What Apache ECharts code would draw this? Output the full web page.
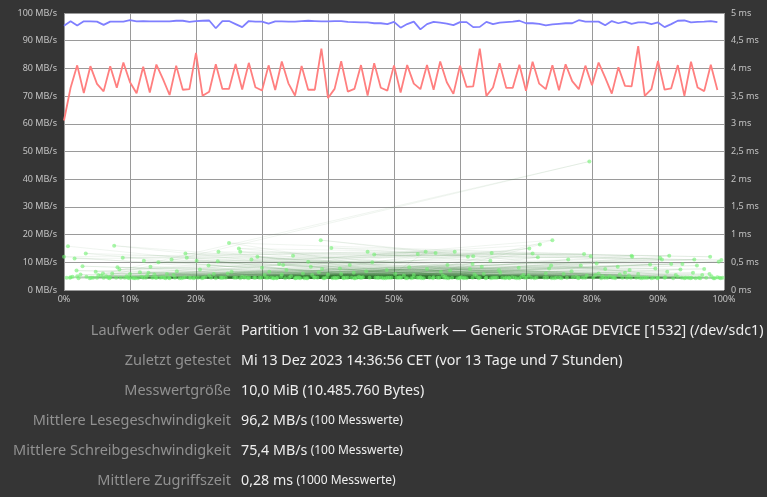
<!DOCTYPE html>
<html>
<head>
<meta charset="utf-8">
<script src="https://cdn.jsdelivr.net/npm/echarts@6/dist/echarts.min.js"></script>
<style>
html,body{margin:0;padding:0;background:#353535;}
#c{width:767px;height:497px;}
</style>
</head>
<body>
<div id="c"></div>
<script>
// Offsets (% of device) for read/write samples
const sampleOffsets = Array.from({length: 100}, (_, i) => i);
// Read rate samples (MB/s)
const readRates = [95.4,97.0,95.5,97.0,97.0,96.9,95.7,96.9,96.9,96.9,
97.4,97.0,97.1,97.0,97.0,97.0,97.0,97.2,97.2,96.8,
97.1,97.2,97.3,94.5,97.1,97.1,96.0,94.9,97.1,96.9,
96.9,96.2,97.0,97.0,96.9,96.9,97.1,97.2,97.1,97.0,
97.0,97.1,97.1,96.8,96.7,96.6,96.6,96.3,96.3,96.0,
96.8,94.7,96.0,96.9,94.1,96.0,96.8,96.5,96.2,95.6,
96.7,96.7,94.9,95.0,96.8,96.0,96.5,96.7,96.9,97.2,
96.3,96.3,96.1,95.5,95.9,96.1,96.3,96.3,97.4,96.9,
96.9,96.9,95.6,97.1,96.3,96.9,96.1,96.6,96.6,96.0,
96.6,94.9,96.0,97.2,97.3,96.6,96.8,96.9,97.1,96.7];
// Write rate samples (MB/s)
const writeRates = [61.2,73.0,81.1,71.1,80.8,74.4,71.7,80.8,73.0,82.1,
75.0,71.0,80.6,71.3,81.4,76.1,70.4,81.0,72.3,72.5,
85.6,70.1,71.6,81.5,72.6,72.6,81.6,72.4,82.0,73.2,
72.0,81.1,72.2,82.5,74.6,70.2,80.9,72.3,72.3,87.1,
69.3,72.6,82.6,71.6,72.6,81.2,70.2,81.9,73.0,72.0,
81.1,71.3,81.2,74.5,72.5,81.2,72.3,82.5,75.0,70.8,
81.0,73.3,73.5,87.1,70.1,73.1,81.9,73.0,73.0,81.3,
71.9,82.4,74.5,72.5,81.1,72.1,81.5,75.4,72.5,81.0,
73.9,82.1,76.7,70.9,80.4,73.7,73.5,88.0,70.1,72.5,
82.7,72.3,72.8,81.2,70.1,82.4,73.1,71.8,81.3,72.2];
// Access time samples: [offset %, time ms], in measurement order
const accessSamples = [
[0.6,0.79],[47.2,0.22],[12.8,0.31],[83.5,0.21],[33.2,0.45],[61.9,0.22],[5.6,0.26],[91.4,0.33],[26.7,0.21],[70.5,0.75],
[18.4,0.23],[55.0,0.38],[96.2,0.22],[39.5,0.21],[8.1,0.41],[77.6,0.24],[44.9,0.22],[23.3,0.52],[64.7,0.21],[1.9,0.35],
[87.2,0.22],[30.4,0.27],[52.6,0.21],[14.9,0.23],[73.8,0.44],[98.6,0.21],[37.0,0.51],[60.2,0.23],[9.7,0.22],[81.0,0.30],
[42.3,0.22],[20.6,0.37],[67.5,0.21],[3.4,0.24],[93.7,0.47],[28.8,0.22],[57.4,0.26],[11.2,0.21],[85.7,0.36],[49.6,0.22],
[16.3,0.55],[75.1,0.22],[38.0,0.23],[97.8,0.29],[6.9,0.21],[63.3,0.42],[24.5,0.22],[89.0,0.21],[45.8,0.34],[71.6,0.22],
[7.6,0.80],[54.2,0.21],[32.9,0.24],[5.2,0.27],[79.6,2.32],[6.4,0.25],[92.7,0.27],[40.7,0.21],[66.1,0.31],[21.4,0.23],
[58.8,0.22],[25.0,0.85],[86.0,0.62],[35.6,0.22],[2.2,0.21],[74.0,0.90],[50.9,0.23],[13.7,0.28],[95.5,0.55],[27.9,0.21],
[68.3,0.22],[41.8,0.39],[99.3,0.22],[17.5,0.21],[56.3,0.67],[31.4,0.22],[82.7,0.25],[10.3,0.22],[48.4,0.21],[65.9,0.36],
[19.8,0.22],[90.3,0.58],[36.7,0.21],[4.8,0.33],[72.1,0.82],[53.5,0.22],[29.3,0.60],[80.2,0.22],[15.4,0.21],[61.2,0.60],
[38.9,0.90],[94.6,0.22],[22.7,0.29],[76.4,0.55],[43.6,0.22],[0.0,0.60],[59.2,0.69],[34.7,0.62],[88.4,0.22],[12.1,0.53],
[51.8,0.21],[69.6,0.27],[26.5,0.75],[97.9,0.60],[46.0,0.69],[8.9,0.58],[78.8,0.65],[40.5,0.76],[62.0,0.61],[18.4,0.66],
[84.6,0.22],[30.9,0.22],[55.9,0.21],[1.0,0.23],[93.0,0.24],[37.9,0.22],[71.0,0.66],[14.3,0.50],[64.6,0.53],[47.0,0.64],
[99.6,0.54],[23.4,0.69],[57.6,0.22],[82.0,0.38],[3.3,0.66],[44.1,0.21],[91.7,0.62],[26.7,0.69],[67.4,0.22],[11.7,0.24],
[53.6,0.65],[79.8,0.61],[32.6,0.47],[96.4,0.21],[18.6,0.58],[73.2,0.22],[42.0,0.29],[86.1,0.60],[1.6,0.57],[60.7,0.22],
[20.1,0.53],[92.0,0.47],[35.0,0.21],[71.8,0.59],[49.0,0.22],[54.8,0.69],[9.2,0.22],[77.9,0.21],[28.4,0.55],[64.8,0.67],
[99.2,0.51],[45.3,0.23],[6.0,0.22],[85.0,0.31],[39.1,0.38],[72.8,0.22],[16.8,0.22],[58.1,0.45],[31.8,0.21],[90.6,0.55],
[4.1,0.22],[66.8,0.21],[48.9,0.36],[23.0,0.21],[81.9,0.22],[13.1,0.42],[63.0,0.22],[36.2,0.30],[95.1,0.22],[52.3,0.41],
[27.3,0.22],[76.9,0.34],[10.8,0.21],[43.0,0.22],[88.8,0.46],[19.2,0.22],[61.5,0.38],[34.1,0.22],[98.1,0.25],[56.9,0.22],
[2.8,0.43],[70.1,0.22],[41.2,0.21],[83.9,0.42],[25.8,0.22],[50.2,0.29],[15.9,0.22],[93.4,0.37],[59.9,0.21],[30.0,0.40],
[74.6,0.22],[8.4,0.37],[46.7,0.50],[87.8,0.22],[21.9,0.44],[62.8,0.21],[37.4,0.42],[97.0,0.38],[54.0,0.23],[12.4,0.22],
[80.7,0.48],[44.4,0.22],[68.9,0.40],[5.0,0.22],[33.7,0.36],[91.0,0.22],[57.1,0.33],[24.1,0.22],[78.3,0.44],[47.7,0.22],
[17.1,0.34],[85.3,0.22],[39.8,0.23],[65.3,0.22],[7.3,0.30],[95.9,0.44],[29.6,0.22],[52.0,0.21],[75.7,0.29],[14.0,0.22],
[61.9,0.47],[35.3,0.22],[89.6,0.39],[0.9,0.22],[69.0,0.21],[43.3,0.45],[22.3,0.22],[83.1,0.22],[58.5,0.35],[10.0,0.29],
[94.2,0.22],[31.1,0.33],[50.7,0.22],[73.5,0.39],[19.6,0.21],[99.8,0.22],
[3.9,0.21],[48.1,0.22],[77.1,0.23],[15.2,0.22],[60.5,0.21],[34.4,0.25],[92.3,0.21],[8.6,0.22],[69.3,0.24],[41.5,0.22],
[20.9,0.21],[85.6,0.26],[56.6,0.22],[27.6,0.23],[98.4,0.21],[11.5,0.32],[64.0,0.22],[36.9,0.21],[80.5,0.27],[45.1,0.22],
[2.5,0.28],[71.3,0.21],[51.1,0.22],[24.8,0.30],[89.3,0.22],[17.8,0.21],[62.5,0.25],[38.4,0.22],[95.3,0.31],[6.7,0.22],
[75.4,0.21],[29.0,0.22],[53.0,0.27],[13.4,0.22],[87.5,0.21],[44.7,0.24],[66.4,0.22],[32.2,0.21],[97.3,0.22],[22.0,0.26],
[58.3,0.21],[9.5,0.25],[82.3,0.22],[40.0,0.28],[70.8,0.22],[16.0,0.21],[49.3,0.22],[91.1,0.23],[26.1,0.22],[63.6,0.29],
[0.4,0.22],[78.6,0.22],[35.8,0.21],[55.4,0.22],[12.6,0.26],[94.9,0.21],[42.7,0.22],[67.9,0.23],[19.0,0.22],[84.2,0.28],
[30.6,0.22],[59.6,0.21],[4.4,0.22],[73.0,0.30],[47.5,0.22],[99.0,0.23],[23.7,0.22],[61.0,0.21],[37.6,0.27],[86.7,0.22],
[10.6,0.21],[52.9,0.22],[79.2,0.26],[28.1,0.22],[68.6,0.21],[14.6,0.22],[43.9,0.31],[93.6,0.22],[33.5,0.21],[57.8,0.24],
[7.9,0.22],[81.4,0.21],[50.4,0.22],[25.4,0.33],[65.6,0.22],[39.3,0.21],[96.7,0.27],[18.1,0.22],[74.3,0.21],[46.3,0.22],
[2.0,0.25],[88.1,0.22],[31.7,0.21],[62.2,0.28],[13.9,0.22],[54.5,0.21],[83.3,0.23],[21.1,0.22],[70.4,0.26],[41.0,0.22],
[99.5,0.21],[5.9,0.30],[60.0,0.22],[35.1,0.21],[78.0,0.22],[16.6,0.27],[48.7,0.21],[90.0,0.22],[27.0,0.24],[67.0,0.22],
[9.9,0.21],[56.0,0.23],[85.9,0.22],[38.6,0.32],[73.9,0.21],[20.3,0.22],[51.5,0.26],[94.0,0.21],[32.3,0.22],[63.9,0.21],
[1.3,0.24],[76.2,0.22],[44.0,0.21],[87.0,0.29],[23.9,0.22],[58.0,0.21],[12.0,0.22],[81.6,0.25],[36.4,0.21],[69.8,0.22],
[29.9,0.22],[95.7,0.21],[15.6,0.29],[53.8,0.22],[42.4,0.21],[79.0,0.22],[7.0,0.23],[65.0,0.22],[33.0,0.28],[89.9,0.21]];
// Info rows
const infoLabels = ['Laufwerk oder Gerät','Zuletzt getestet','Messwertgröße','Mittlere Lesegeschwindigkeit','Mittlere Schreibgeschwindigkeit','Mittlere Zugriffszeit'];
const infoValues = ['Partition 1 von 32 GB-Laufwerk — Generic STORAGE DEVICE [1532] (/dev/sdc1)','Mi 13 Dez 2023 14:36:56 CET (vor 13 Tage und 7 Stunden)','10,0 MiB (10.485.760 Bytes)','96,2 MB/s','75,4 MB/s','0,28 ms'];
const infoNotes = ['','','','(100 Messwerte)','(100 Messwerte)','(1000 Messwerte)'];

const FONT = "'Noto Sans', sans-serif";
const chart = echarts.init(document.getElementById('c'), null, {renderer: 'canvas'});

const graphics = [];
infoLabels.forEach((t, i) => {
  const y = 331 + i * 30;
  graphics.push({type: 'text', x: 231, y: y, style: {text: t, fill: '#919191', font: '14.5px ' + FONT, textAlign: 'right', textVerticalAlign: 'middle'}});
  const txt = infoNotes[i] ? '{m|' + infoValues[i] + '} {n|' + infoNotes[i] + '}' : '{m|' + infoValues[i] + '}';
  graphics.push({type: 'text', x: 241, y: y, style: {text: txt, textAlign: 'left', textVerticalAlign: 'middle',
    rich: {m: {fill: '#eeeeee', fontSize: 14.25, fontFamily: FONT}, n: {fill: '#eeeeee', fontSize: 12, fontFamily: FONT}}}});
});

const axisLabelStyle = {color: '#c4c4c4', fontSize: 9, fontFamily: FONT};

chart.setOption({
  backgroundColor: '#353535',
  animation: false,
  grid: {left: 64, top: 13, width: 660, height: 277, show: true, backgroundColor: '#ffffff', borderWidth: 0},
  xAxis: {type: 'value', min: 0, max: 100, interval: 10,
    axisLine: {show: false}, axisTick: {show: false},
    axisLabel: Object.assign({formatter: '{value}%', margin: 5}, axisLabelStyle),
    splitLine: {show: true, lineStyle: {color: '#9a9a9a', width: 1}}},
  yAxis: [
    {type: 'value', min: 0, max: 100, interval: 10, position: 'left',
      axisLine: {show: false}, axisTick: {show: false},
      axisLabel: Object.assign({formatter: '{value} MB/s', margin: 7}, axisLabelStyle),
      splitLine: {show: true, lineStyle: {color: '#9a9a9a', width: 1}}},
    {type: 'value', min: 0, max: 5, interval: 0.5, position: 'right',
      axisLine: {show: false}, axisTick: {show: false},
      axisLabel: Object.assign({formatter: v => String(v).replace('.', ',') + ' ms', margin: 7}, axisLabelStyle),
      splitLine: {show: false}}
  ],
  graphic: graphics,
  series: [
    {name: 'access-lines', type: 'line', yAxisIndex: 1, data: accessSamples, showSymbol: false, symbol: 'none',
      lineStyle: {color: 'rgba(40,120,40,0.07)', width: 1}, silent: true, z: 2},
    {name: 'access', type: 'scatter', yAxisIndex: 1, data: accessSamples, symbolSize: 4,
      itemStyle: {color: 'rgba(110,240,110,0.75)'}, silent: true, z: 3},
    {name: 'write', type: 'line', data: sampleOffsets.map((x, i) => [x, writeRates[i]]), showSymbol: false, symbol: 'none',
      lineStyle: {color: '#ff7f7f', width: 1.8}, z: 4},
    {name: 'read', type: 'line', data: sampleOffsets.map((x, i) => [x, readRates[i]]), showSymbol: false, symbol: 'none',
      lineStyle: {color: '#7f7fff', width: 1.8}, z: 4}
  ]
});
</script>
</body>
</html>
